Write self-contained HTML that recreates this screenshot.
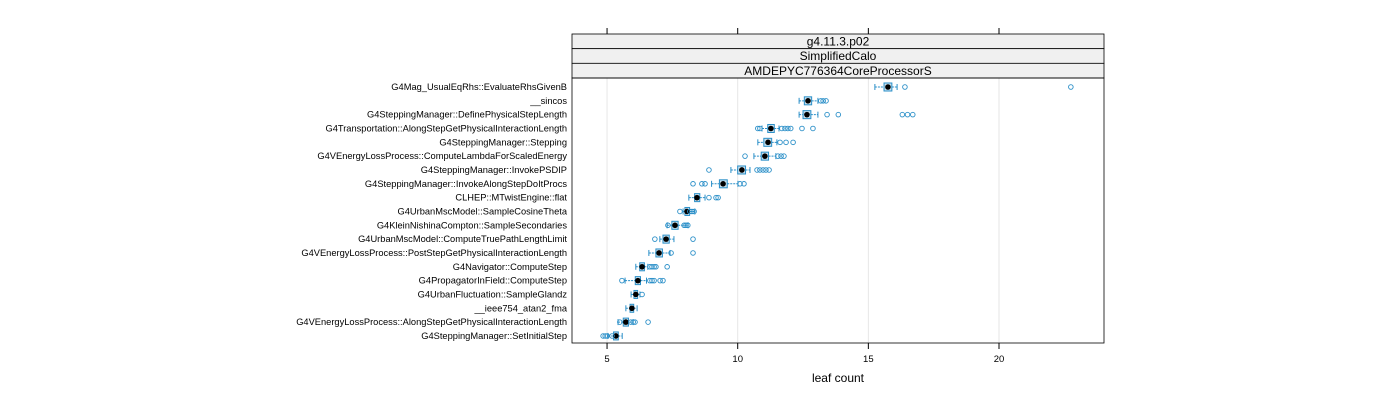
<!DOCTYPE html>
<html><head><meta charset="utf-8"><style>
body{margin:0;background:#fff}
svg{display:block;font-family:"Liberation Sans",sans-serif}
</style></head><body>
<svg id="chart" width="1400" height="400" viewBox="0 0 1400 400"></svg>
<script>
const categories=["G4Mag_UsualEqRhs::EvaluateRhsGivenB","__sincos","G4SteppingManager::DefinePhysicalStepLength","G4Transportation::AlongStepGetPhysicalInteractionLength","G4SteppingManager::Stepping","G4VEnergyLossProcess::ComputeLambdaForScaledEnergy","G4SteppingManager::InvokePSDIP","G4SteppingManager::InvokeAlongStepDoItProcs","CLHEP::MTwistEngine::flat","G4UrbanMscModel::SampleCosineTheta","G4KleinNishinaCompton::SampleSecondaries","G4UrbanMscModel::ComputeTruePathLengthLimit","G4VEnergyLossProcess::PostStepGetPhysicalInteractionLength","G4Navigator::ComputeStep","G4PropagatorInField::ComputeStep","G4UrbanFluctuation::SampleGlandz","__ieee754_atan2_fma","G4VEnergyLossProcess::AlongStepGetPhysicalInteractionLength","G4SteppingManager::SetInitialStep"];
const medians=[15.75,12.69,12.65,11.27,11.16,11.04,10.16,9.44,8.44,8.06,7.6,7.26,6.99,6.34,6.18,6.1,5.95,5.72,5.34];
const q1=[15.6,12.55,12.5,11.15,11.0,10.9,10.0,9.3,8.35,7.98,7.48,7.14,6.87,6.25,6.08,6.03,5.88,5.62,5.25];
const q3=[15.9,12.83,12.8,11.4,11.3,11.18,10.3,9.6,8.55,8.16,7.72,7.38,7.12,6.43,6.28,6.17,6.02,5.82,5.43];
const whiskLo=[15.25,12.35,12.35,10.93,10.77,10.62,9.74,9.0,8.13,7.91,7.3,7.02,6.6,6.1,5.69,5.92,5.72,5.42,5.04];
const whiskHi=[16.1,13.07,13.07,11.58,11.5,11.46,10.47,10.01,8.75,8.36,8.1,7.56,7.41,6.56,6.51,6.26,6.15,6.0,5.58];
const outliers=[[16.4,22.75],[13.18,13.27,13.38],[13.42,13.85,16.3,16.5,16.7],[10.77,10.85,11.69,11.81,11.92,12.03,12.46,12.88],[11.62,11.85,12.12],[10.28,11.54,11.66,11.77],[8.9,10.74,10.85,10.97,11.08,11.2],[8.29,8.63,8.75,10.09,10.24],[8.9,9.17,9.25],[7.79,8.17,8.25,8.33],[7.33,7.95,8.02,8.09],[6.83,8.29],[7.45,8.29],[6.64,6.72,6.8,6.87,7.3],[5.57,6.64,6.72,6.8,7.03,7.14],[6.34],[],[5.49,5.91,6.0,6.07,6.57],[4.85,4.93,5.0,5.19]];
const ticks=[5,10,15,20];
const NS="http://www.w3.org/2000/svg";
const svg=document.getElementById('chart');
const px0=572,px1=1104,py0=78,py1=343;
const x=v=>476.4+26.13*v;
const y=i=>87+i*13.83;
function mk(t,a,p){const e=document.createElementNS(NS,t);for(const k in a)e.setAttribute(k,a[k]);(p||svg).appendChild(e);return e;}
ticks.forEach(t=>{const g=mk('line',{x1:x(t),x2:x(t),y1:py0,y2:py1,stroke:'#e6e6e6'});

});
const strips=["g4.11.3.p02","SimplifiedCalo","AMDEPYC776364CoreProcessorS"];
strips.forEach((s,k)=>{const y0=34+k*14.67;
const r=mk('rect',{x:px0,y:y0,width:px1-px0,height:14.67,fill:'#f0f0f0',stroke:'#000','stroke-width':0.8});


const t=mk('text',{x:(px0+px1)/2,y:y0+11.5,'text-anchor':'middle','font-size':12});t.textContent=s;

});
const pr=mk('rect',{x:px0,y:py0,width:px1-px0,height:py1-py0,fill:'none',stroke:'#000','stroke-width':0.8});


ticks.forEach(t=>{
const a=mk('line',{x1:x(t),x2:x(t),y1:py1,y2:py1+6,stroke:'#000'});


const b=mk('line',{x1:x(t),x2:x(t),y1:28,y2:34,stroke:'#000'});


const l=mk('text',{x:x(t),y:362,'text-anchor':'middle','font-size':9.5});l.textContent=t;

});
const xt=mk('text',{x:838,y:382,'text-anchor':'middle','font-size':12});xt.textContent='leaf count';


const col='#2a8fc8';
categories.forEach((c,i)=>{
const yy=y(i);
const lab=mk('text',{x:567,y:yy+3,'text-anchor':'end','font-size':9.3});lab.textContent=c;


const g=mk('g',{});


mk('line',{x1:x(whiskLo[i]),x2:x(q1[i]),y1:yy,y2:yy,stroke:col,'stroke-dasharray':'2,1'},g);
mk('line',{x1:x(q3[i]),x2:x(whiskHi[i]),y1:yy,y2:yy,stroke:col,'stroke-dasharray':'2,1'},g);
mk('line',{x1:x(whiskLo[i]),x2:x(whiskLo[i]),y1:yy-3,y2:yy+3,stroke:col},g);
mk('line',{x1:x(whiskHi[i]),x2:x(whiskHi[i]),y1:yy-3,y2:yy+3,stroke:col},g);
mk('rect',{x:x(q1[i]),y:yy-4,width:x(q3[i])-x(q1[i]),height:8,fill:'#c9e1ef',stroke:col},g);
mk('circle',{cx:x(medians[i]),cy:yy,r:2.8,fill:'#000'},g);
outliers[i].forEach(o=>{const p=mk('circle',{cx:x(o),cy:yy,r:2.3,fill:'none',stroke:col,'stroke-width':0.9},g);

});
});
</script>
</body></html>
